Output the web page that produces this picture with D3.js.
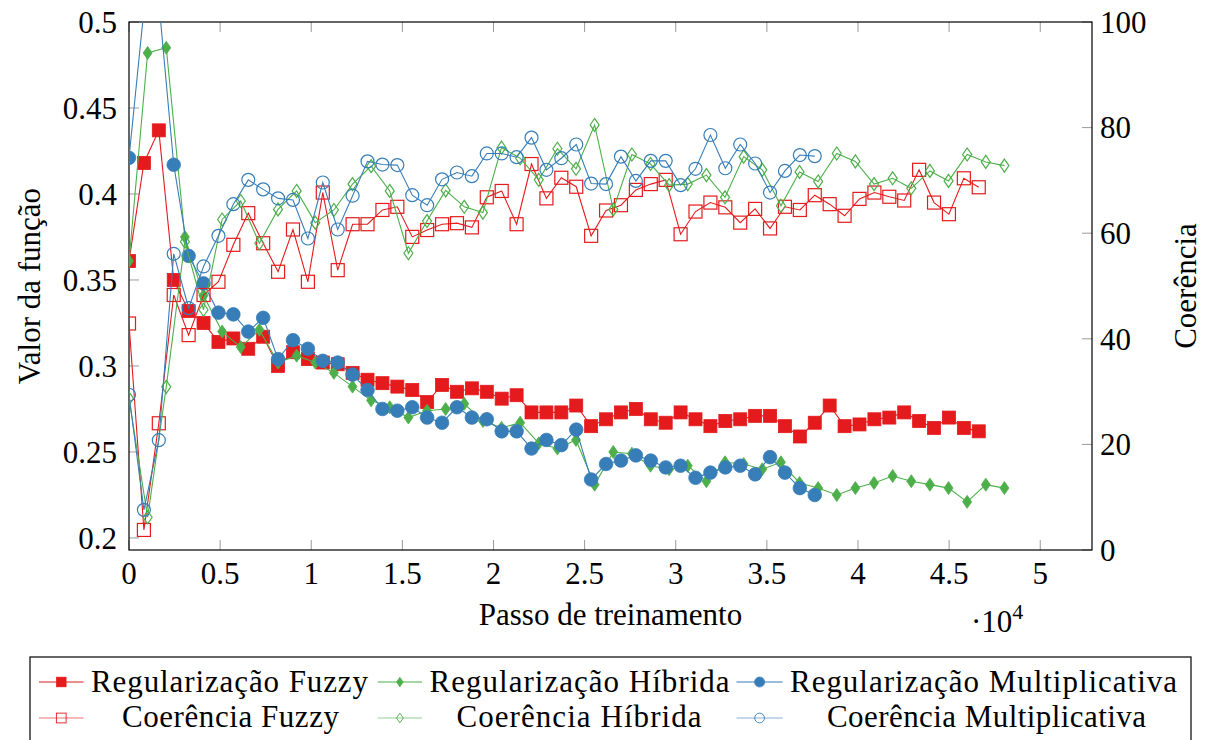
<!DOCTYPE html>
<meta charset="utf-8">
<body style="margin:0;background:#fff">

<!-- load the d3.js library -->
<script src="https://d3js.org/d3.v7.min.js"></script>
<script>
// logging interval (training steps) of each run
var fuzzyEvery = 818, hibridaEvery = 1022, multEvery = 818;

// regularization value (left axis)
var regFuzzy = [0.361, 0.418, 0.437, 0.350, 0.332, 0.325, 0.314, 0.316, 0.310, 0.317,
  0.300, 0.308, 0.304, 0.302, 0.301, 0.296, 0.292, 0.290, 0.288, 0.286,
  0.279, 0.289, 0.285, 0.287, 0.285, 0.281, 0.283, 0.273, 0.273, 0.273,
  0.277, 0.265, 0.269, 0.273, 0.275, 0.269, 0.267, 0.273, 0.269, 0.265,
  0.268, 0.269, 0.271, 0.271, 0.265, 0.259, 0.267, 0.277, 0.265, 0.266,
  0.269, 0.270, 0.273, 0.268, 0.264, 0.270, 0.264, 0.262];
var regHibrida = [0.361, 0.482, 0.485, 0.375, 0.341, 0.320, 0.311, 0.321, 0.302, 0.306,
  0.302, 0.296, 0.288, 0.280, 0.276, 0.270, 0.274, 0.275, 0.278, 0.268,
  0.264, 0.267, 0.255, 0.252, 0.257, 0.231, 0.250, 0.249, 0.242, 0.240,
  0.242, 0.233, 0.244, 0.243, 0.240, 0.244, 0.232, 0.229, 0.225, 0.229,
  0.232, 0.236, 0.233, 0.231, 0.229, 0.221, 0.231, 0.229];
var regMult = [0.421, 0.507, 0.512, 0.417, 0.364, 0.348, 0.331, 0.330, 0.320, 0.328,
  0.304, 0.315, 0.310, 0.303, 0.302, 0.295, 0.286, 0.275, 0.274, 0.276,
  0.270, 0.267, 0.276, 0.270, 0.269, 0.262, 0.262, 0.252, 0.257, 0.254,
  0.263, 0.234, 0.243, 0.245, 0.248, 0.245, 0.241, 0.242, 0.235, 0.238,
  0.241, 0.242, 0.237, 0.247, 0.238, 0.229, 0.225];

// coherence (right axis)
var cohFuzzy = [42.9, 3.8, 24.0, 48.3, 40.7, 48.3, 50.8, 57.8, 63.8, 58.1,
  52.7, 60.7, 50.8, 67.7, 53.0, 61.7, 61.7, 64.4, 65.0, 59.3,
  60.6, 61.7, 61.9, 61.1, 66.8, 68.0, 61.7, 73.1, 66.6, 70.5,
  68.8, 59.5, 64.3, 65.3, 68.2, 69.3, 70.1, 59.8, 64.1, 65.8,
  64.9, 62.0, 64.6, 60.9, 65.0, 64.4, 67.2, 65.5, 63.3, 66.5,
  67.7, 66.9, 66.2, 72.0, 65.8, 63.6, 70.4, 68.7];
var cohHibrida = [28.7, 6.2, 30.9, 58.4, 45.5, 62.6, 66.1, 58.1, 64.5, 68.0,
  62.0, 64.4, 69.3, 72.7, 68.0, 56.2, 62.3, 68.1, 65.0, 63.9,
  76.2, 74.2, 70.1, 76.0, 72.2, 80.5, 64.5, 74.9, 73.1, 69.1,
  69.3, 71.0, 66.8, 74.5, 72.0, 65.2, 71.6, 69.8, 75.1, 73.6,
  69.3, 70.4, 68.5, 71.8, 69.9, 74.9, 73.5, 72.8];
var cohMult = [29.4, 7.6, 20.8, 56.1, 45.8, 53.7, 59.5, 65.5, 70.1, 68.3,
  66.6, 66.3, 59.0, 69.6, 60.7, 67.1, 73.6, 73.0, 72.9, 67.2,
  65.3, 70.2, 71.5, 70.8, 75.1, 75.1, 74.4, 78.1, 72.0, 74.2,
  76.8, 69.4, 69.3, 74.5, 69.9, 73.7, 73.7, 69.1, 72.2, 78.6,
  72.3, 76.8, 73.2, 67.7, 71.8, 74.8, 74.6];

// ticks
var xTicks = [0, 0.5, 1, 1.5, 2, 2.5, 3, 3.5, 4, 4.5, 5];
var yLeftTicks = [0.2, 0.25, 0.3, 0.35, 0.4, 0.45, 0.5];
var yRightTicks = [0, 20, 40, 60, 80, 100];

var red = "#e41a1c", green = "#4daf4a", blue = "#377eb8";
var font = "Liberation Serif, DejaVu Serif, serif";

var margin = {top: 22, right: 116, bottom: 190, left: 129},
  width = 1208 - margin.left - margin.right,
  height = 740 - margin.top - margin.bottom;

var svg = d3.select("body").append("svg")
    .attr("width", 1208)
    .attr("height", 740)
    .attr("font-family", font);

var g = svg.append("g")
    .attr("transform", "translate(" + margin.left + "," + margin.top + ")");

var x = d3.scaleLinear().domain([0, 52840]).range([0, width]);
var yL = d3.scaleLinear().domain([0.193, 0.5]).range([height, 0]);
var yR = d3.scaleLinear().domain([0, 100]).range([height, 0]);

g.append("clipPath").attr("id", "clip")
  .append("rect").attr("width", width).attr("height", height);

// ticks (inside, grey)
var tickCol = "#9a9a9a";
g.selectAll(".xt").data(xTicks).enter().append("g").each(function(d) {
  var px = x(d * 1e4);
  d3.select(this).append("line").attr("x1", px).attr("x2", px).attr("y1", height).attr("y2", height - 10).attr("stroke", tickCol);
  d3.select(this).append("line").attr("x1", px).attr("x2", px).attr("y1", 0).attr("y2", 10).attr("stroke", tickCol);
  d3.select(this).append("text").attr("x", px).attr("y", height + 34)
    .attr("text-anchor", "middle").attr("font-size", 31).attr("font-family", font).text(d);
});
g.selectAll(".yl").data(yLeftTicks).enter().append("g").each(function(d) {
  var py = yL(d);
  d3.select(this).append("line").attr("x1", 0).attr("x2", 10).attr("y1", py).attr("y2", py).attr("stroke", tickCol);
  d3.select(this).append("text").attr("x", -12).attr("y", py).attr("dy", "0.35em")
    .attr("text-anchor", "end").attr("font-size", 31).attr("font-family", font).text(d);
});
g.selectAll(".yr").data(yRightTicks).enter().append("g").each(function(d) {
  var py = yR(d);
  d3.select(this).append("line").attr("x1", width).attr("x2", width - 10).attr("y1", py).attr("y2", py).attr("stroke", tickCol);
  d3.select(this).append("text").attr("x", width + 8).attr("y", py).attr("dy", "0.35em")
    .attr("text-anchor", "start").attr("font-size", 31).attr("font-family", font).text(d);
});

// frame
g.append("rect").attr("width", width).attr("height", height)
  .attr("fill", "none").attr("stroke", "#000").attr("stroke-width", 1.2);

// marker shapes
function marker(sel, shape, color, filled) {
  var fill = filled ? color : "none";
  if (shape == "square") {
    sel.append("rect").attr("x", -6.5).attr("y", -6.5).attr("width", 13).attr("height", 13)
      .attr("fill", fill).attr("stroke", color).attr("stroke-width", filled ? 0.8 : 1.2);
  } else if (shape == "circle") {
    sel.append("circle").attr("r", filled ? 6.8 : 6.5)
      .attr("fill", fill).attr("stroke", color).attr("stroke-width", filled ? 0.8 : 1.2);
  } else {
    sel.append("path").attr("d", "M0,-6.5L4.5,0L0,6.5L-4.5,0Z")
      .attr("fill", fill).attr("stroke", color).attr("stroke-width", filled ? 0.8 : 1.2);
  }
}

var series = [
  {vals: regFuzzy, every: fuzzyEvery, y: yL, color: red, shape: "square", filled: true},
  {vals: regHibrida, every: hibridaEvery, y: yL, color: green, shape: "diamond", filled: true},
  {vals: regMult, every: multEvery, y: yL, color: blue, shape: "circle", filled: true},
  {vals: cohFuzzy, every: fuzzyEvery, y: yR, color: red, shape: "square", filled: false},
  {vals: cohHibrida, every: hibridaEvery, y: yR, color: green, shape: "diamond", filled: false},
  {vals: cohMult, every: multEvery, y: yR, color: blue, shape: "circle", filled: false}
];

var plot = g.append("g").attr("clip-path", "url(#clip)");
series.forEach(function(s) {
  var pts = s.vals.map(function(v, i) { return [x(i * s.every), s.y(v)]; });
  plot.append("path")
    .attr("d", d3.line()(pts))
    .attr("fill", "none").attr("stroke", s.color).attr("stroke-width", 1.1);
  plot.selectAll(null).data(pts).enter().append("g")
    .attr("transform", function(p) { return "translate(" + p[0] + "," + p[1] + ")"; })
    .each(function() { marker(d3.select(this), s.shape, s.color, s.filled); });
});

// axis titles
svg.append("text").attr("x", 610.5).attr("y", 625).attr("text-anchor", "middle")
  .attr("font-size", 31).attr("font-family", font).text("Passo de treinamento");
svg.append("text").attr("transform", "translate(40,286) rotate(-90)").attr("text-anchor", "middle")
  .attr("font-size", 31).attr("font-family", font).text("Valor da função");
svg.append("text").attr("transform", "translate(1196,286) rotate(-90)").attr("text-anchor", "middle")
  .attr("font-size", 31).attr("font-family", font).text("Coerência");
var sc = svg.append("text").attr("x", 971).attr("y", 632).attr("font-size", 31).attr("font-family", font);
sc.append("tspan").text("·10");
sc.append("tspan").attr("dy", -13).attr("font-size", 22).text("4");

// legend
var legendNames = ["Regularização Fuzzy", "Regularização Híbrida", "Regularização Multiplicativa",
  "Coerência Fuzzy", "Coerência Híbrida", "Coerência Multiplicativa"];
var colSample = [[39, 83.5], [377.7, 422], [736.5, 782.7]];
var colText = [[91, 277, 230.5, 217], [429.6, 300, 579, 245], [790, 387, 986.5, 319]];
var rowY = [682, 718], rowBase = [692, 727];

svg.append("rect").attr("x", 30).attr("y", 657).attr("width", 1161).attr("height", 100)
  .attr("fill", "none").attr("stroke", "#000").attr("stroke-width", 1.2);

series.forEach(function(s, k) {
  var row = Math.floor(k / 3), col = k % 3;
  var a = colSample[col];
  var lg = svg.append("g");
  lg.append("line").attr("x1", a[0]).attr("x2", a[1]).attr("y1", rowY[row]).attr("y2", rowY[row])
    .attr("stroke", s.color).attr("stroke-width", 1.2).attr("opacity", row ? 0.6 : 1);
  var m = lg.append("g").attr("transform", "translate(" + (a[0] + a[1]) / 2 + "," + rowY[row] + ") scale(0.75)");
  marker(m, s.shape, s.color, s.filled);
  var t = colText[col];
  var tx = lg.append("text").attr("y", rowBase[row]).attr("font-size", 31).attr("font-family", font)
    .text(legendNames[k]).attr("lengthAdjust", "spacing");
  if (row == 0) tx.attr("x", t[0]).attr("textLength", t[1]);
  else tx.attr("x", t[2]).attr("text-anchor", "middle").attr("textLength", t[3]);
});
</script>
</body>
